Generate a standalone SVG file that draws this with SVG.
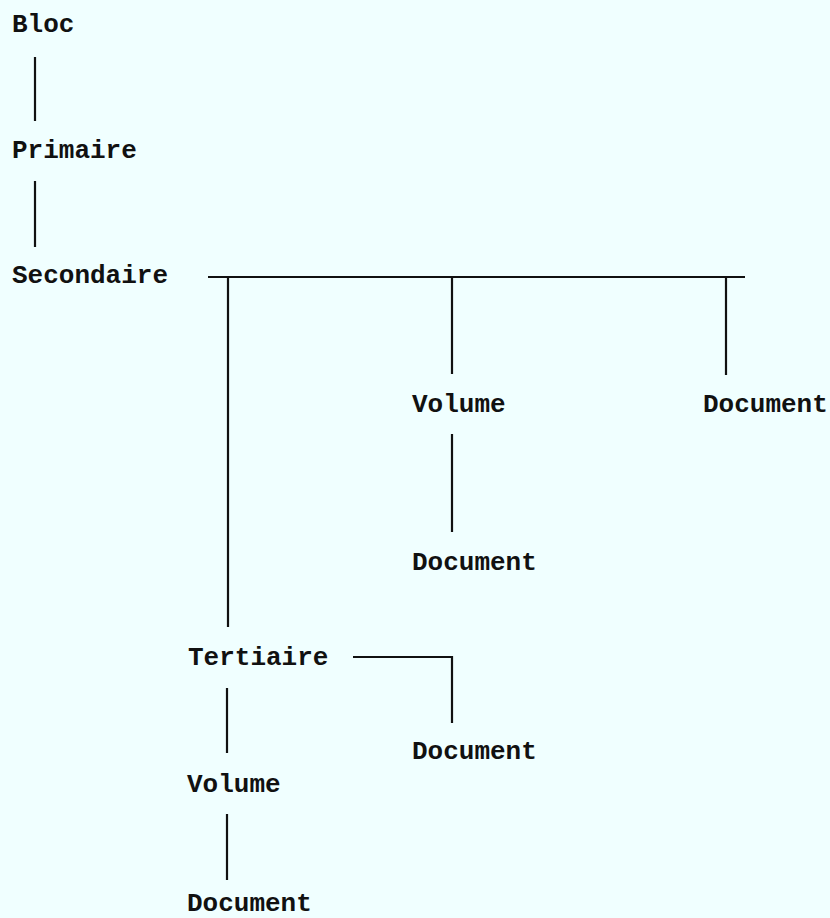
<svg xmlns="http://www.w3.org/2000/svg" width="830" height="918" viewBox="0 0 830 918">
<style>
text{font-family:"Liberation Mono","Courier New",monospace;font-size:26px;font-weight:bold;fill:#111}
.c line{stroke:#111;stroke-width:2.2;fill:none}
</style>
<rect x="0" y="0" width="830" height="918" fill="#f0ffff"/>
<g class="c" id="connectors">
<line x1="35" y1="57" x2="35" y2="121"/>
<line x1="35" y1="181" x2="35" y2="247"/>
<line x1="208" y1="277" x2="745" y2="277"/>
<line x1="228" y1="277" x2="228" y2="627"/>
<line x1="452" y1="277" x2="452" y2="374"/>
<line x1="726" y1="277" x2="726" y2="375"/>
<line x1="452" y1="434" x2="452" y2="532"/>
<line x1="353" y1="657" x2="452" y2="657"/>
<line x1="452" y1="656" x2="452" y2="723"/>
<line x1="227" y1="688" x2="227" y2="753"/>
<line x1="227" y1="814" x2="227" y2="880"/>
</g>
<g id="bloc"><text x="12" y="32">Bloc</text></g>
<g id="primaire"><text x="12" y="158">Primaire</text></g>
<g id="secondaire"><text x="12" y="283">Secondaire</text></g>
<g id="volume1"><text x="412" y="412">Volume</text></g>
<g id="document1"><text x="703" y="412">Document</text></g>
<g id="document2"><text x="412" y="570">Document</text></g>
<g id="tertiaire"><text x="188" y="665">Tertiaire</text></g>
<g id="document3"><text x="412" y="759">Document</text></g>
<g id="volume2"><text x="187" y="792">Volume</text></g>
<g id="document4"><text x="187" y="911">Document</text></g>
</svg>
